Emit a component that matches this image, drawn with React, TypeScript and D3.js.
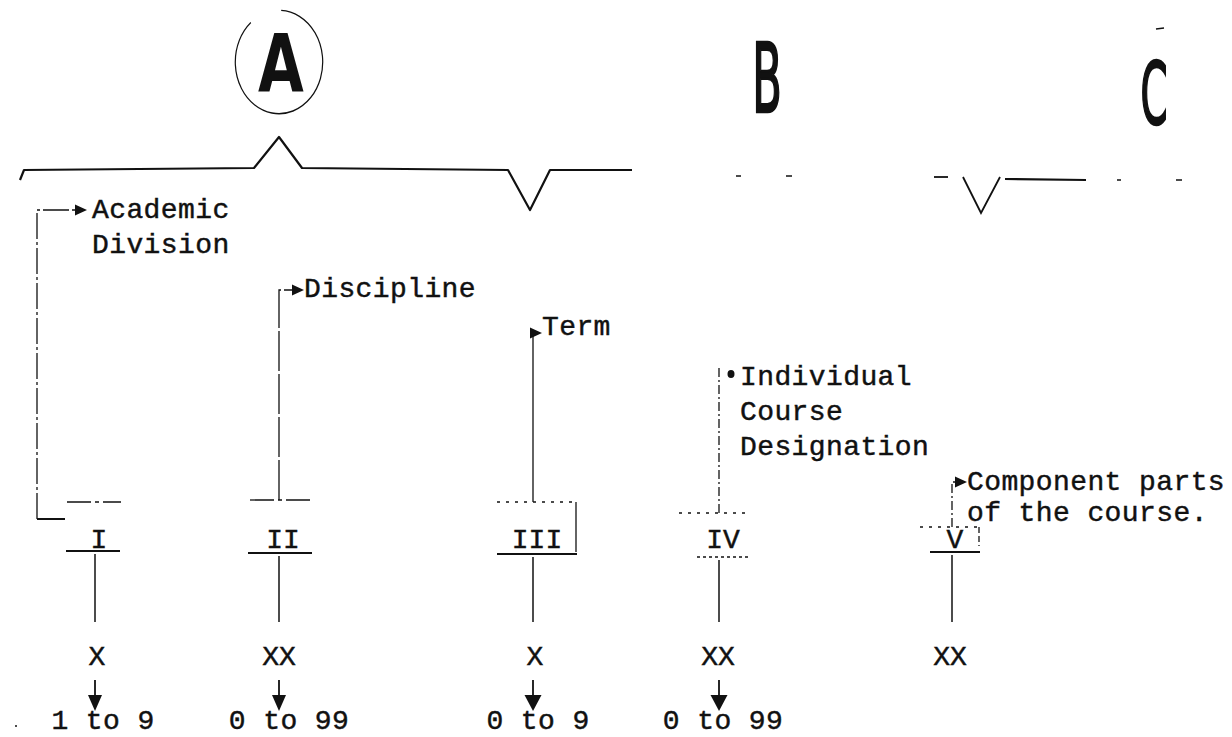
import * as d3 from "d3";

// Course numbering scheme: five fields grouped into A, B, C
const fields = ["I", "II", "III", "IV", "V"];
const digitMasks = ["X", "XX", "X", "XX", "XX"];
const valueRanges = ["1 to 9", "0 to 99", "0 to 9", "0 to 99", ""];
const descriptions = [
  ["Academic", "Division"],
  ["Discipline"],
  ["Term"],
  ["Individual", "Course", "Designation"],
  ["Component parts", "of the course."],
];
const groupLetters = ["A", "B", "C"];

// layout (pixels in the 1232x737 page)
const colX = [95, 279, 533, 719, 952];
const labelDx = [4, 4, 4, 4, 3];
const rangeDx = [8, 10, 5, 4, 0];
const maskDx = [2, 0, 2, -1, -2];
const textX = [92, 304, 542, 740, 967];
const textY = [218, 297, 335, 385, 490];
const lineGap = [35, 35, 35, 35, 31];
const pointerY = [210, 290, 333, 374, 482];
const boxTop = [502, 500, 502, 513, 527];
const underline = [[66, 120], [248, 312], [497, 577], [697, 748], [930, 980]];
const underlineY = [551, 553, 554, 557, 552];
const labelY = [548, 548, 548, 548, 548];
const topDash = [[67, 121], [250, 311], [497, 575], [679, 746], [920, 978]];

const rowY = d3.scaleOrdinal<string, number>()
  .domain(["stemEnd", "mask", "arrowStart", "arrowTip", "range"])
  .range([622, 665, 680, 711, 729]);

const line = d3.line<[number, number]>();
const font = "'Liberation Mono', 'DejaVu Sans Mono', monospace";

export default function App() {
  const stroke = "#111";
  // top bracket pieces
  const bracketA: [number, number][] = [[20, 180], [24, 170], [254, 168], [279, 137], [302, 168], [508, 170], [530, 210], [550, 170], [632, 170]];
  const bracketC: [number, number][] = [[963, 177], [981, 213], [1000, 177]];

  const tri = (x: number, y: number, w: number, h: number) =>
    line([[x, y - h / 2], [x + w, y], [x, y + h / 2], [x, y - h / 2]]) as string;
  const down = (x: number, y: number, w: number, h: number) =>
    line([[x - w / 2, y - h], [x + w / 2, y - h], [x, y], [x - w / 2, y - h]]) as string;

  const circle = d3.arc()({ innerRadius: 47, outerRadius: 47, startAngle: 0.05, endAngle: 2 * Math.PI - 0.7 }) as string;
  const textProps = { fontFamily: font, fontSize: 28, fill: stroke, stroke: stroke, strokeWidth: 0.45 };

  return (
    <svg width={1232} height={737} style={{ position: "absolute", left: 0, top: 0, background: "#fff" }}>
      {/* group letters */}
      <g transform="translate(279,62) scale(0.93,1.1)">
        <path d={circle} fill="none" stroke={stroke} strokeWidth={1.3} />
      </g>
      <text x={281} y={92} textAnchor="middle" fontFamily="'DejaVu Sans', sans-serif" fontWeight="bold"
        fontSize={80} transform="translate(281,92) scale(0.74,1) translate(-281,-92)" fill={stroke}>{groupLetters[0]}</text>
      <text x={767} y={112} textAnchor="middle" fontFamily="'DejaVu Sans', sans-serif" fontSize={96}
        stroke={stroke} strokeWidth={2.5} transform="translate(767,112) scale(0.45,1) translate(-767,-112)" fill={stroke}>{groupLetters[1]}</text>
      <text x={1154} y={124} textAnchor="middle" fontFamily="'DejaVu Sans', sans-serif" fontSize={86}
        stroke={stroke} strokeWidth={2.5} transform="translate(1154,124) scale(0.45,1) translate(-1154,-124)" fill={stroke}>{groupLetters[2]}</text>
      <line x1={1156} y1={29} x2={1164} y2={28} stroke={stroke} strokeWidth={1.5} />

      {/* bracket */}
      <path d={line(bracketA) as string} fill="none" stroke={stroke} strokeWidth={2.2} strokeLinejoin="round" />
      <line x1={736} x2={741} y1={176} y2={176} stroke={stroke} strokeWidth={1.5} />
      <line x1={786} x2={792} y1={176} y2={176} stroke={stroke} strokeWidth={1.5} />
      <line x1={934} x2={948} y1={177} y2={177} stroke={stroke} strokeWidth={1.8} />
      <path d={line(bracketC) as string} fill="none" stroke={stroke} strokeWidth={1.8} />
      <line x1={1005} x2={1086} y1={179} y2={180} stroke={stroke} strokeWidth={2.2} />
      <line x1={1117} x2={1121} y1={180} y2={180} stroke={stroke} strokeWidth={1.5} />
      <line x1={1176} x2={1182} y1={180} y2={180} stroke={stroke} strokeWidth={1.5} />

      {fields.map((f, i) => {
        const x = colX[i];
        const vx = i === 0 ? 37 : x;
        const vBottom = i === 0 ? 519 : boxTop[i];
        const headX = textX[i] - (i === 0 ? 17 : 12);
        return (
          <g key={f}>
            {/* description text */}
            {descriptions[i].map((t, k) => (
              <text key={k} x={textX[i]} y={textY[i] + k * lineGap[i]} letterSpacing={0.4}
                xmlSpace="preserve" {...textProps}>{t}</text>
            ))}
            {/* pointer from box to description */}
            <path d={line(i === 3 ? [[vx, vBottom], [vx, pointerY[i] - 6]] : [[vx, vBottom], [vx, pointerY[i]], [headX, pointerY[i]]]) as string}
              fill="none" stroke={stroke} strokeWidth={1.3}
              strokeDasharray={i === 2 ? "none" : i === 1 ? "40,3" : i === 0 ? "26,3,3,3" : "9,3,2,3"} />
            {i === 3 ? (
              <ellipse cx={731} cy={pointerY[i]} rx={3.5} ry={4} fill={stroke} />
            ) : (
              <path d={tri(headX, pointerY[i], 12, 11)} fill={stroke} />
            )}
            {i === 0 && (
              <line x1={37} x2={65} y1={519} y2={519} stroke={stroke} strokeWidth={2} />
            )}
            {/* box top (dashed) */}
            <line x1={topDash[i][0]} x2={topDash[i][1]} y1={boxTop[i]} y2={boxTop[i]} stroke={stroke}
              strokeWidth={1.3} strokeDasharray={i >= 2 ? "3,6" : "24,4,4,4"} />
            {(i === 2 || i === 4) && (
              <line x1={topDash[i][1] + 1} x2={topDash[i][1] + 1} y1={boxTop[i]} y2={underlineY[i] - (i === 4 ? 6 : 2)}
                stroke={stroke} strokeWidth={1.3} strokeDasharray={i === 4 ? "6,3" : "none"} />
            )}
            {/* numeral label */}
            <text x={x + labelDx[i]} y={labelY[i]} textAnchor="middle" {...textProps}>{f}</text>
            <line x1={underline[i][0]} x2={underline[i][1]} y1={underlineY[i]} y2={underlineY[i]}
              stroke={stroke} strokeWidth={i === 3 ? 1.3 : 2.2} strokeDasharray={i === 3 ? "3,3" : "none"} />
            {/* stem */}
            <line x1={x} x2={x} y1={underlineY[i] + 3} y2={rowY("stemEnd")} stroke={stroke} strokeWidth={1.5} />
            <text x={x + maskDx[i]} y={rowY("mask")} textAnchor="middle" {...textProps}>{digitMasks[i]}</text>
            {valueRanges[i] && (
              <g>
                <line x1={x} x2={x} y1={rowY("arrowStart")} y2={rowY("arrowTip") - 12} stroke={stroke} strokeWidth={1.8} />
                <path d={down(x, rowY("arrowTip"), i >= 2 ? 17 : 14, 16)} fill={stroke} />
                <text x={x + rangeDx[i]} y={rowY("range")} textAnchor="middle" letterSpacing={0.4}
                  xmlSpace="preserve" {...textProps}>{valueRanges[i]}</text>
              </g>
            )}
          </g>
        );
      })}
      <circle cx={16} cy={726} r={1} fill={stroke} />
    </svg>
  );
}
